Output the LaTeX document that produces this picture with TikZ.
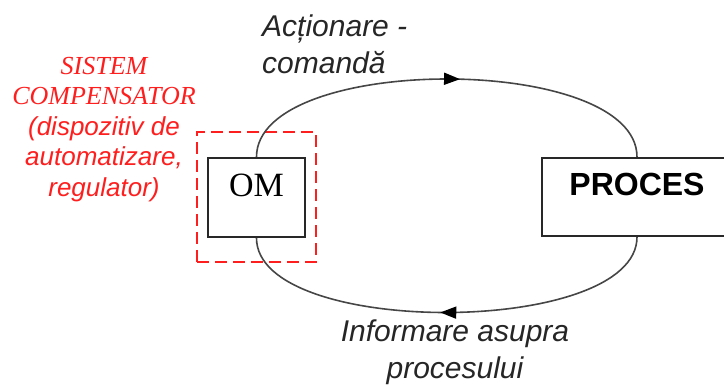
\documentclass[tikz,border=0pt]{standalone}
\usepackage{fontspec}
\setmainfont{Liberation Serif}
\newfontfamily\arialf{Liberation Sans}
\usetikzlibrary{arrows.meta,decorations.markings}

\definecolor{linegray}{RGB}{70,70,70}
\definecolor{boxline}{RGB}{40,40,40}
\definecolor{alarmred}{RGB}{255,30,30}

\begin{document}
\begin{tikzpicture}[x=1pt,y=1pt,
  box/.style={draw=boxline, line width=2pt, rectangle, inner sep=0pt},
  flow/.style={draw=linegray, line width=1.6pt, postaction={decorate},
    decoration={markings, mark=at position #1 with {\arrow[black]{Triangle[length=16pt,width=12pt]}}}},
  lbl/.style={font=\arialf\itshape\fontsize{30}{37}\selectfont, inner sep=0pt, text=black!85},
  grpbox/.style={draw=alarmred, line width=2.2pt, dash pattern=on 12pt off 6pt, rectangle, inner sep=0pt}
]
\useasboundingbox (0,0) rectangle (724,-385);

% compensating system: operator box inside a dashed frame
\node[grpbox, minimum width=119pt, minimum height=130pt] (grp) at (256.5,-197) {};
\node[box, fill=white, minimum width=97pt, minimum height=79pt,
      font=\fontsize{34}{40}\selectfont, text height=22pt, text depth=23pt] (om) at (256.5,-197.5) {OM};

% controlled process (its right side runs past the page edge)
\node[box, fill=white, minimum width=190pt, minimum height=78pt,
      font=\arialf\bfseries\fontsize{32}{38}\selectfont, text height=23pt, text depth=25pt] (proces) at (637,-197) {PROCES};

% command path and feedback path
\draw[flow=0.53] (om.north) .. controls +(0,104) and +(0,104) .. (proces.north);
\draw[flow=0.515] (proces.south) .. controls +(0,-100) and +(0,-100) .. (om.south);

% labels
\node[lbl, anchor=north west, align=left] (cmd) at (262,-15) {Acționare -\\comandă};
\node[lbl, anchor=north, align=center] (info) at (455,-320) {Informare asupra\\procesului};
\node[anchor=north, align=center, inner sep=0pt, text=alarmred,
      font=\itshape\fontsize{26}{30.5}\selectfont] (sys) at (104,-57)
  {SISTEM\\COMPENSATOR\\\arialf\itshape (dispozitiv de\\\arialf\itshape automatizare,\\\arialf\itshape regulator)};
\end{tikzpicture}
\end{document}
